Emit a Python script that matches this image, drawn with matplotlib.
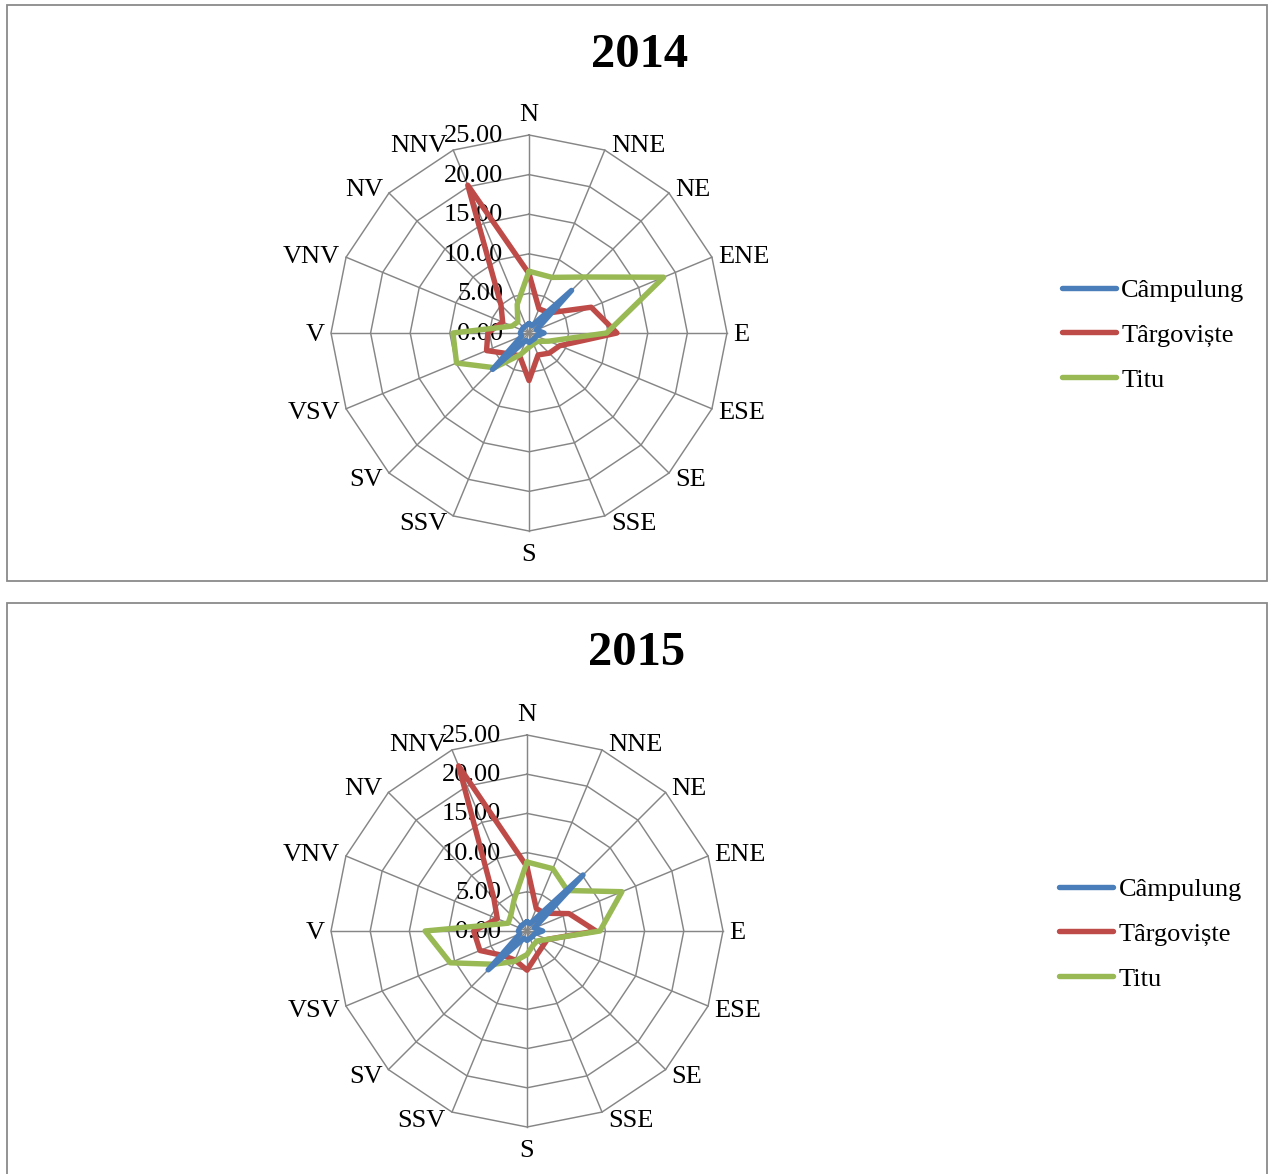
import numpy as np
import matplotlib
matplotlib.use("Agg")
import matplotlib.pyplot as plt
from matplotlib.patches import Rectangle
from matplotlib.lines import Line2D
from matplotlib import transforms

# Wind directions (Romanian notation, V = west), clockwise from north
directions = ["N", "NNE", "NE", "ENE", "E", "ESE", "SE", "SSE",
              "S", "SSV", "SV", "VSV", "V", "VNV", "NV", "NNV"]
ring_values = [0, 5, 10, 15, 20, 25]
ring_labels = ["0.00", "5.00", "10.00", "15.00", "20.00", "25.00"]
stations = ["Câmpulung", "Târgoviște", "Titu"]

# Frequency (%) per direction
campulung_2014 = [1.2, 1.0, 7.6, 1.0, 1.9, 1.0, 1.0, 1.0, 1.2, 1.0, 6.5, 1.0, 1.1, 1.0, 1.0, 1.0]
targoviste_2014 = [7.5, 3.3, 3.6, 8.5, 11.1, 4.2, 3.6, 3.0, 6.0, 3.1, 3.7, 5.8, 5.2, 3.6, 5.0, 20.2]
titu_2014 = [7.8, 7.6, 10.0, 18.4, 9.8, 2.7, 1.5, 1.5, 1.8, 3.0, 6.2, 9.9, 9.6, 2.3, 2.0, 3.9]

campulung_2015 = [1.2, 1.0, 10.1, 1.0, 2.0, 1.0, 1.0, 1.0, 1.2, 1.0, 7.0, 1.0, 1.1, 1.0, 1.0, 1.0]
targoviste_2015 = [8.2, 3.1, 3.2, 5.8, 8.8, 2.8, 2.8, 3.3, 5.0, 4.0, 4.4, 6.5, 6.8, 4.1, 6.0, 22.8]
titu_2015 = [8.8, 8.6, 7.3, 13.1, 9.3, 2.8, 1.8, 2.0, 3.0, 4.2, 6.0, 10.6, 13.0, 2.6, 2.9, 4.3]

years = ["2014", "2015"]
series_by_year = {
    "2014": [campulung_2014, targoviste_2014, titu_2014],
    "2015": [campulung_2015, targoviste_2015, titu_2015],
}

W, H = 1269, 1174
plt.rcParams["font.family"] = ["Liberation Serif", "DejaVu Serif"]
fig = plt.figure(figsize=(W / 100, H / 100), dpi=100)

GRID = "#868686"
FRAME = "#8a8a8a"
COLORS = ["#4A7EBB", "#BE4B48", "#98B954"]
ZORDER = [6, 4, 5]
FS = 19

panels = [
    dict(year="2014", frame=(7, 5, 1267, 581), center=(529, 333), radius=198,
         title=(640, 55), legend=(1062, 335)),
    dict(year="2015", frame=(7, 603, 1267, 1190), center=(527, 931), radius=196,
         title=(637, 653), legend=(1059, 934)),
]

theta = np.arange(len(directions)) * 2 * np.pi / len(directions)
theta_closed = np.append(theta, theta[0])
rmax = ring_values[-1]

for p in panels:
    x0, y0, x1, y1 = p["frame"]
    fig.add_artist(Rectangle((x0 / W, 1 - y1 / H), (x1 - x0) / W, (y1 - y0) / H,
                             transform=fig.transFigure, fill=False,
                             edgecolor=FRAME, lw=1.3))
    tx, ty = p["title"]
    fig.text(tx / W, 1 - ty / H, p["year"], ha="center", va="center",
             fontsize=35, fontweight="bold")

    cx, cy = p["center"]
    R = p["radius"]
    ax = fig.add_axes([(cx - R) / W, 1 - (cy + R) / H, 2 * R / W, 2 * R / H],
                      projection="polar")
    ax.set_theta_zero_location("N")
    ax.set_theta_direction(-1)
    ax.set_ylim(0, rmax)
    ax.grid(False)
    ax.set_xticks([])
    ax.set_yticks([])
    ax.spines["polar"].set_visible(False)
    ax.patch.set_alpha(0)

    # polygonal rings and spokes
    for r in ring_values[1:]:
        ax.plot(theta_closed, [r] * len(theta_closed), color=GRID, lw=1.05,
                clip_on=False, zorder=1)
    for t in theta:
        ax.plot([t, t], [0, rmax], color=GRID, lw=1.05, clip_on=False, zorder=1)

    # radial value labels along the north spoke
    lab_tr = transforms.offset_copy(ax.transData, fig=fig, x=-26, y=-1, units="dots")
    for r, lab in zip(ring_values, ring_labels):
        ax.text(0, r, lab, transform=lab_tr, ha="right", va="center",
                fontsize=FS, zorder=3)

    # direction labels, anchored just outside the outer ring
    for t, lab in zip(theta, directions):
        s, c = np.sin(t), np.cos(t)
        if abs(s) < 0.1:
            ha, dx, dy = "center", 0, 22 * np.sign(c)
        else:
            ha = "left" if s > 0 else "right"
            dx, dy = 6 * np.sign(s), 7 * c
        tr = transforms.offset_copy(ax.transData, fig=fig, x=dx, y=dy - 2, units="dots")
        ax.text(t, rmax, lab, transform=tr, ha=ha, va="center", fontsize=FS)

    # station series
    for vals, col, z in zip(series_by_year[p["year"]], COLORS, ZORDER):
        v = np.append(vals, vals[0])
        ax.plot(theta_closed, v, color=col, lw=3.9, solid_joinstyle="round",
                solid_capstyle="round", clip_on=False, zorder=z)

    lx, ly = p["legend"]
    handles = [Line2D([0], [0], color=c, lw=3.9, solid_capstyle="round") for c in COLORS]
    fig.legend(handles, stations, loc="center left",
               bbox_to_anchor=(lx / W, 1 - ly / H),
               frameon=False, fontsize=FS, handlelength=2.05, handletextpad=0.2,
               labelspacing=0.81, borderpad=0, borderaxespad=0)

fig.savefig("out.png", dpi=100)
